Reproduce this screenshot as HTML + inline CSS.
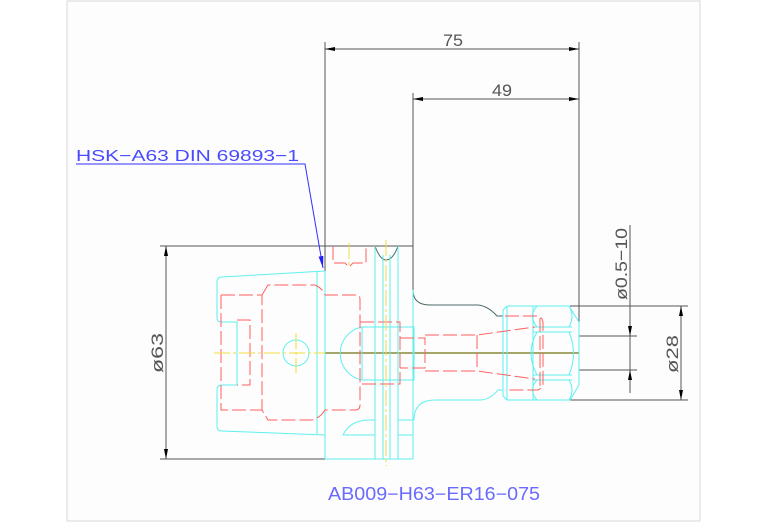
<!DOCTYPE html>
<html><head><meta charset="utf-8"><style>
html,body{margin:0;padding:0;background:#fff}
svg{display:block}
text{font-family:"Liberation Sans",sans-serif}
</style></head><body>
<svg width="767" height="523" viewBox="0 0 767 523" xmlns="http://www.w3.org/2000/svg">
<rect x="0" y="0" width="767" height="523" fill="#fff"/>
<rect x="67" y="1" width="633" height="520" fill="#fcfdfc" stroke="#d8d8d8" stroke-width="1"/>
<defs>
<marker id="ar" viewBox="0 0 10 4" refX="10" refY="2" markerWidth="10" markerHeight="4" orient="auto-start-reverse" markerUnits="userSpaceOnUse"><path d="M0,0 L10,2 L0,4 Z" fill="#000"/></marker>
<marker id="ab" viewBox="0 0 10 4" refX="10" refY="2" markerWidth="12" markerHeight="5" orient="auto" markerUnits="userSpaceOnUse"><path d="M0,0 L10,2 L0,4 Z" fill="#2020ff"/></marker>
</defs>
<g fill="none" stroke-width="1">
<g stroke="#555">
<line x1="325" y1="42" x2="325" y2="353"/>
<line x1="579" y1="42" x2="579" y2="353"/>
<line x1="413" y1="93" x2="413" y2="290"/>
<line x1="160" y1="246" x2="413" y2="246"/>
<line x1="160" y1="459" x2="325" y2="459"/>
<line x1="570" y1="306" x2="688" y2="306"/>
<line x1="570" y1="400" x2="688" y2="400"/>
<line x1="579" y1="336" x2="637" y2="336"/>
<line x1="579" y1="370" x2="637" y2="370"/>
<line x1="630" y1="225" x2="630" y2="393"/>
</g>
<line x1="325" y1="49" x2="579" y2="49" stroke="#555" marker-start="url(#ar)" marker-end="url(#ar)"/>
<line x1="413" y1="99" x2="579" y2="99" stroke="#555" marker-start="url(#ar)" marker-end="url(#ar)"/>
<line x1="166" y1="246" x2="166" y2="459" stroke="#555" marker-start="url(#ar)" marker-end="url(#ar)"/>
<line x1="681" y1="306" x2="681" y2="400" stroke="#555" marker-start="url(#ar)" marker-end="url(#ar)"/>
<line x1="630" y1="320" x2="630" y2="336" stroke="#555" marker-end="url(#ar)"/>
<line x1="630" y1="386" x2="630" y2="370" stroke="#555" marker-end="url(#ar)"/>
<path d="M413,290 Q413,305 430,305 L478,305 Q488,306 497,316 L503,316" stroke="#4a6a6a"/>
<path d="M375,246 Q380,260 386,260 Q393,260 398,246" stroke="#4a6a6a"/>
<line x1="325" y1="353" x2="579" y2="353" stroke="#8a8a3a" stroke-width="1.5"/>
<g stroke="#5ff0f0">
<path d="M325,271 L222,277 Q217,277 217,282 L217,318 Q217,322 222,322 L237,322 L237,385 L222,385 Q217,385 217,390 L217,426 Q217,431 222,431 L325,435"/>
<line x1="317" y1="271" x2="317" y2="434"/>
<line x1="325" y1="271" x2="325" y2="459"/>
<line x1="325" y1="459" x2="413" y2="459"/>
<line x1="375" y1="246" x2="375" y2="459"/>
<line x1="383" y1="255" x2="383" y2="459"/>
<line x1="390" y1="255" x2="390" y2="459"/>
<line x1="398" y1="246" x2="398" y2="459"/>
<line x1="413" y1="290" x2="413" y2="459"/>
<circle cx="296" cy="353" r="13"/>
<path d="M362,327 A27,27 0 0 0 362,380"/>
<rect x="362" y="327" width="52" height="53"/>
<path d="M414,420 Q414,400 435,400 L480,400 Q490,400 498,390 L503,390"/>
<path d="M343,435 Q350,420 370,420 L375,420"/>
<line x1="343" y1="435" x2="375" y2="435"/>
<path d="M398,420 L413,420 M398,435 L413,435"/>
<path d="M507,306 L569,306 L579,322 L579,385 L570,400 L507,400 L503,396 L503,310 Z"/>
<line x1="507" y1="306" x2="507" y2="400"/>
<line x1="533" y1="306" x2="533" y2="400"/>
<path d="M533,327 L572,327 M533,332 L572,332 M533,375 L572,375 M533,380 L572,380"/>
<path d="M537,306 Q528,316 537,327 M537,332 Q525,353 537,375 M537,380 Q528,390 537,400"/>
<path d="M569,306 Q575,316 569,327 M569,332 Q578,353 569,375 M569,380 Q575,390 569,400"/>
</g>
<g stroke="#ff6060" stroke-dasharray="14,4">
<path d="M221,295 L262,295 M221,295 L221,410 L262,410"/>
<path d="M237,320 L250,320 L250,385 L237,385"/>
<path d="M262,295 L268,285 L315,285 Q322,288 325,295 L357,295 Q360,295 360,300 L360,405 Q360,410 355,410 L325,410 Q320,418 312,420 L268,420 L262,410 Z"/>
<path d="M333,246 L333,263 L345,263 L349,267 L353,263 L366,263 L366,246"/>
<rect x="360" y="322" width="40" height="62"/>
<path d="M400,338 L425,338 L425,368 L400,368"/>
<path d="M425,335 L477,335 L535,327 M425,371 L477,371 L535,379"/>
<line x1="477" y1="335" x2="477" y2="371"/>
<path d="M505,316 L538,316 Q543,318 543,323 L543,383 Q543,388 538,390 L505,390"/>
<line x1="540" y1="318" x2="540" y2="388"/>
</g>
<g stroke="#f0e040" stroke-dasharray="16,3,3,3">
<line x1="214" y1="353" x2="325" y2="353"/>
<line x1="296" y1="333" x2="296" y2="373"/>
<line x1="386" y1="240" x2="386" y2="466"/>
<line x1="349" y1="243" x2="349" y2="265"/>
</g>
<path d="M76,164 L305,164 L323,268" stroke="#3030ff" marker-end="url(#ab)"/>
</g>
<g fill="#555" font-size="17">
<text x="443" y="46" textLength="20" lengthAdjust="spacingAndGlyphs">75</text>
<text x="492" y="96" textLength="20" lengthAdjust="spacingAndGlyphs">49</text>
<text transform="translate(163,373) rotate(-90)" textLength="40" lengthAdjust="spacingAndGlyphs">ø63</text>
<text transform="translate(678,373) rotate(-90)" textLength="38" lengthAdjust="spacingAndGlyphs">ø28</text>
<text transform="translate(627,300) rotate(-90)" textLength="72" lengthAdjust="spacingAndGlyphs">ø0.5−10</text>
</g>
<text x="76" y="161" fill="#4a4aff" font-size="16" textLength="223" lengthAdjust="spacingAndGlyphs">HSK−A63 DIN 69893−1</text>
<text x="328" y="500" fill="#6a6aff" font-size="18" textLength="212" lengthAdjust="spacingAndGlyphs">AB009−H63−ER16−075</text>
</svg>
</body></html>
